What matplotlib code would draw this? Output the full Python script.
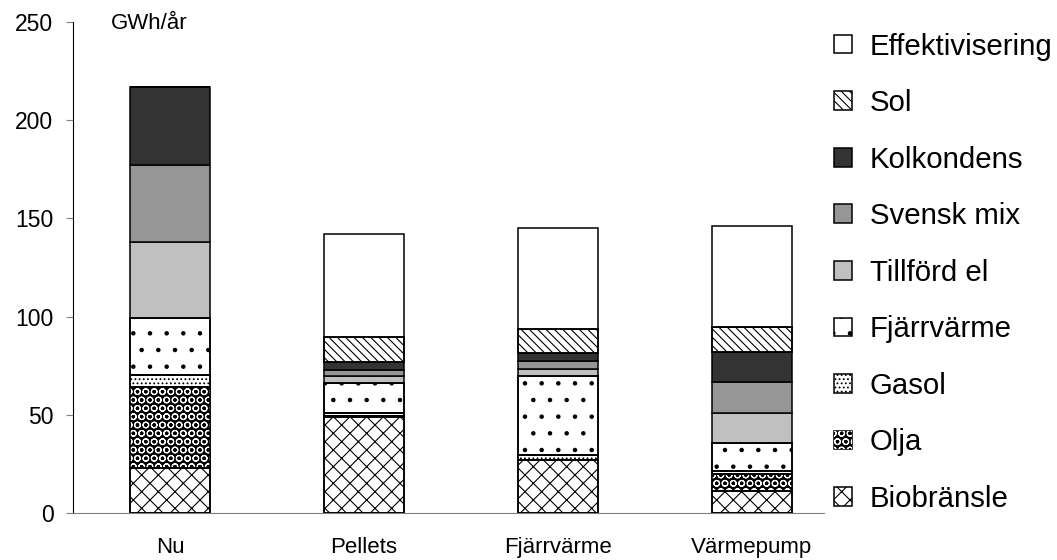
import matplotlib
matplotlib.use('Agg')
import matplotlib.pyplot as plt
import numpy as np

categories = ['Nu', 'Pellets', 'Fjärrvärme', 'Värmepump']
series_names = ['Biobränsle', 'Olja', 'Gasol', 'Fjärrvärme', 'Tillförd el',
                'Svensk mix', 'Kolkondens', 'Sol', 'Effektivisering']

biobransle = [23, 49, 27, 11]
olja = [41, 0.5, 0, 9]
gasol = [6, 1.5, 2.5, 1.5]
fjarrvarme = [29, 15, 40, 14]
tillford_el = [39, 3.5, 4, 15.5]
svensk_mix = [39, 3.5, 4, 15.5]
kolkondens = [40, 4, 4, 15.5]
sol = [0, 12.5, 12, 12.5]
effektivisering = [0, 52.5, 51.5, 51.5]

yticks = [0, 50, 100, 150, 200, 250]

# (facecolor, hatch, hatch colour) per series
styles = [
    ('white', 'xx', 'black'),
    ('black', 'OO', 'white'),
    ('white', '....', 'black'),
    ('white', '.', 'black'),
    ('#c0c0c0', None, None),
    ('#969696', None, None),
    ('#333333', None, None),
    ('white', '\\\\\\\\', 'black'),
    ('white', None, None),
]

plt.rcParams['font.family'] = ['Liberation Sans', 'DejaVu Sans']
plt.rcParams['hatch.linewidth'] = 0.8

fig = plt.figure(figsize=(10.57, 5.6), dpi=100)
ax = fig.add_axes([0.069, 0.084, 0.734, 0.877])

data = [biobransle, olja, gasol, fjarrvarme, tillford_el, svensk_mix,
        kolkondens, sol, effektivisering]
x = np.arange(len(categories))
width = 0.41
bottom = np.zeros(len(categories))
handles = []
for name, vals, (fc, hatch, hc) in zip(series_names, data, styles):
    vals = np.array(vals, dtype=float)
    base = ax.bar(x, vals, width, bottom=bottom, color=fc,
                  edgecolor='black', linewidth=1.1, zorder=2)
    h = base.patches[0]
    if hatch:
        over = ax.bar(x, vals, width, bottom=bottom, color='none',
                      edgecolor=hc, hatch=hatch, linewidth=0, zorder=3)
        ax.bar(x, vals, width, bottom=bottom, color='none',
               edgecolor='black', linewidth=1.1, zorder=4)
        h = (base.patches[0], over.patches[0])
    handles.append(h)
    bottom += vals

ax.set_xlim(-0.5, 3.5)
ax.set_ylim(0, 250)
ax.set_yticks(yticks)
ax.set_xticks(x)
ax.set_xticklabels(categories, fontsize=16)
ax.tick_params(axis='x', length=0, pad=17)
ax.tick_params(axis='y', direction='out', length=5, labelsize=16.5,
               color='#808080', pad=9)
for s in ['top', 'right']:
    ax.spines[s].set_visible(False)
ax.spines['left'].set_color('black')
ax.spines['bottom'].set_color('#808080')

ax.text(-0.305, 249, 'GWh/år', fontsize=16, va='center', ha='left')

leg = fig.legend(handles[::-1], series_names[::-1],
                 loc='upper left', bbox_to_anchor=(0.767, 0.984),
                 prop={'size': 21.2},
                 frameon=True, fancybox=False, edgecolor='none',
                 facecolor='white', framealpha=1,
                 handlelength=0.6, handleheight=0.6,
                 handletextpad=0.6, labelspacing=0.97, borderpad=0.3)
leg.set_zorder(10)

fig.savefig('out.png', dpi=100)
